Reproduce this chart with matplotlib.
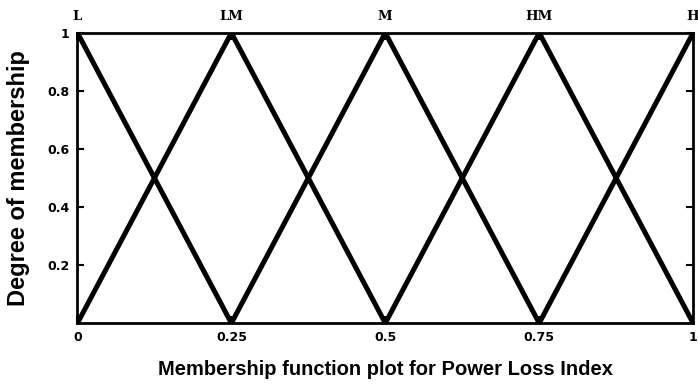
import numpy as np
import matplotlib.pyplot as plt

# triangular membership functions for the power loss index
names = ['L', 'LM', 'M', 'HM', 'H']
peaks = [0, 0.25, 0.5, 0.75, 1]
width = 0.25

xticks = [0, 0.25, 0.5, 0.75, 1]
xticklabels = ['0', '0.25', '0.5', '0.75', '1']
yticks = [0.2, 0.4, 0.6, 0.8, 1]
yticklabels = ['0.2', '0.4', '0.6', '0.8', '1']

fig = plt.figure(figsize=(6.98, 3.87), dpi=100)
ax = fig.add_axes([0.111, 0.165, 0.882, 0.750])

for c in peaks:
    xs = [c - width, c, c + width]
    ys = [0, 1, 0]
    ax.plot(xs, ys, color='black', lw=3.6, solid_joinstyle='miter', clip_on=True)

for name, c in zip(names, peaks):
    ax.text(c, 1.035, name, ha='center', va='bottom', fontsize=9.5,
            fontweight='bold', family='DejaVu Serif')

ax.set_xlim(0, 1)
ax.set_ylim(0, 1)
ax.set_xticks(xticks)
ax.set_xticklabels(xticklabels)
ax.set_yticks(yticks)
ax.set_yticklabels(yticklabels)
ax.tick_params(direction='in', length=5, width=1.5, top=True, right=True,
               labelsize=9, pad=6)
for lbl in ax.get_xticklabels() + ax.get_yticklabels():
    lbl.set_fontweight('bold')
for s in ax.spines.values():
    s.set_linewidth(2)

ax.set_xlabel('Membership function plot for Power Loss Index', fontsize=14.5,
              fontweight='heavy', family='Liberation Sans', labelpad=11)
ax.set_ylabel('Degree of membership', fontsize=17, fontweight='heavy',
              family='Liberation Sans', labelpad=12)

plt.savefig('out.png', dpi=100)
